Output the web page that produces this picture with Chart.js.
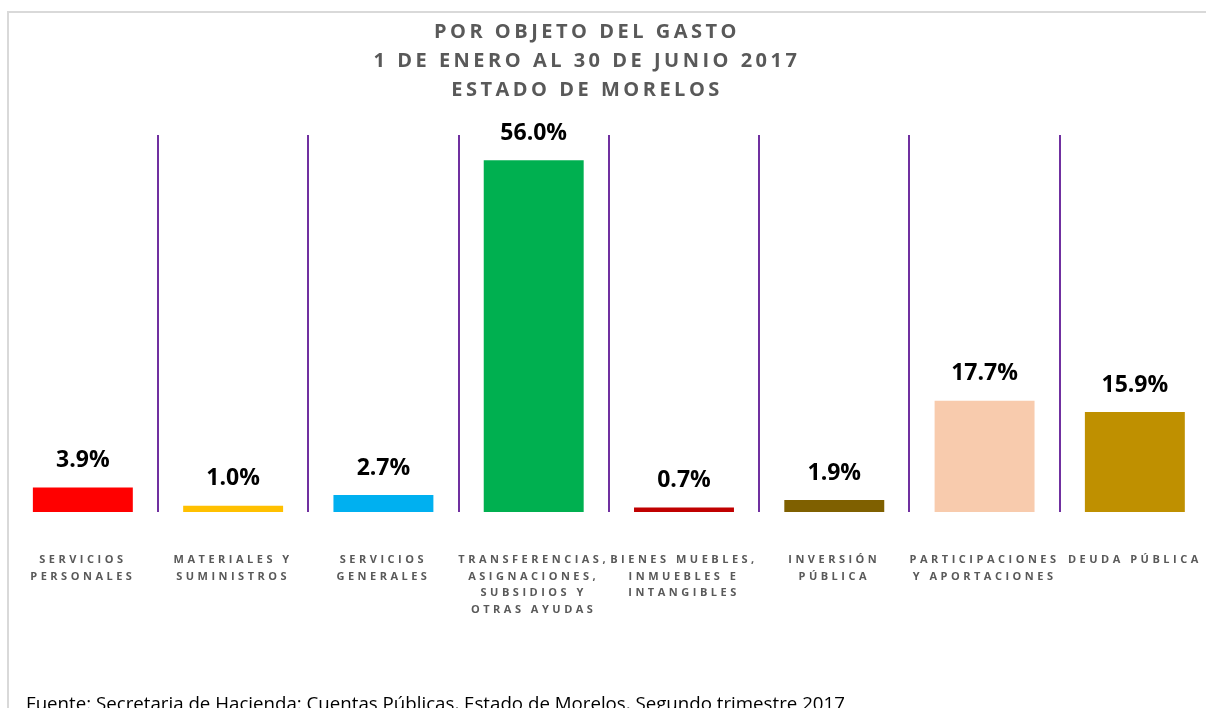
<!DOCTYPE html>
<html lang="es">
<head>
<meta charset="utf-8">
<title>Por objeto del gasto</title>
<script src="https://cdn.jsdelivr.net/npm/chart.js@4.4.1/dist/chart.umd.min.js"></script>
<style>
    html, body {
        margin: 0;
        padding: 0;
        background: #ffffff;
        overflow: hidden;
    }
    #contenedor {
        position: relative;
        width: 1206px;
        height: 708px;
        overflow: hidden;
    }
    #marco {
        position: absolute;
        left: 7px;
        top: 11px;
        width: 1300px;
        height: 800px;
        border-left: 2px solid #d9d9d9;
        border-top: 2px solid #d9d9d9;
    }
    #grafica {
        position: absolute;
        left: 0;
        top: 0;
    }
    #fuente {
        position: absolute;
        left: 26px;
        top: 692px;
        font-family: 'Open Sans', sans-serif;
        font-size: 18.7px;
        line-height: 22px;
        color: #000000;
        white-space: nowrap;
    }
</style>
</head>
<body>
<div id="contenedor">
    <div id="marco"></div>
    <canvas id="grafica" width="1212" height="708"></canvas>
    <div id="fuente">Fuente: Secretaria de Hacienda: Cuentas Públicas, Estado de Morelos, Segundo trimestre 2017</div>
</div>
<script>
// DATOS
var categorias = [
    ['SERVICIOS', 'PERSONALES'],
    ['MATERIALES Y', 'SUMINISTROS'],
    ['SERVICIOS', 'GENERALES'],
    ['TRANSFERENCIAS,', 'ASIGNACIONES,', 'SUBSIDIOS Y', 'OTRAS AYUDAS'],
    ['BIENES MUEBLES,', 'INMUEBLES E', 'INTANGIBLES'],
    ['INVERSIÓN', 'PÚBLICA'],
    ['PARTICIPACIONES', 'Y APORTACIONES'],
    ['DEUDA PÚBLICA']
];
var porcentajes = [3.9, 1.0, 2.7, 56.0, 0.7, 1.9, 17.7, 15.9];
var colores = ['#FF0000', '#FFC000', '#00B0F0', '#00B050', '#C00000', '#7F6000', '#F8CBAD', '#BF9000'];
var titulo = ['POR OBJETO DEL GASTO', '1 DE ENERO AL 30 DE JUNIO 2017', 'ESTADO DE MORELOS'];

// espaciado de letras para etiquetas del eje
var espaciado = {
    id: 'espaciado',
    beforeLayout: function (chart) {
        chart.ctx.letterSpacing = '3.5px';
    },
    beforeDraw: function (chart) {
        chart.ctx.letterSpacing = '3.5px';
    }
};

// titulo (un poco a la izquierda del centro, como en el original)
var tituloGrafica = {
    id: 'tituloGrafica',
    afterDraw: function (chart) {
        var ctx = chart.ctx;
        ctx.save();
        ctx.letterSpacing = '3.5px';
        ctx.font = 'bold 20px "Open Sans"';
        ctx.fillStyle = '#595959';
        ctx.textAlign = 'center';
        ctx.textBaseline = 'middle';
        for (var i = 0; i < titulo.length; i++) {
            ctx.fillText(titulo[i], 587, 32 + i * 29);
        }
        ctx.restore();
    }
};

// etiquetas de porcentaje sobre cada barra
var etiquetasValor = {
    id: 'etiquetasValor',
    afterDatasetsDraw: function (chart) {
        var ctx = chart.ctx;
        var meta = chart.getDatasetMeta(0);
        ctx.save();
        ctx.letterSpacing = '0px';
        ctx.font = 'bold 23px "Open Sans"';
        ctx.fillStyle = '#000000';
        ctx.textAlign = 'center';
        ctx.textBaseline = 'middle';
        for (var i = 0; i < meta.data.length; i++) {
            var barra = meta.data[i];
            ctx.fillText(porcentajes[i].toFixed(1) + '%', barra.x, barra.y - 27);
        }
        ctx.restore();
        ctx.letterSpacing = '3.5px';
    }
};

var ctx = document.getElementById('grafica').getContext('2d');
var miGrafica = new Chart(ctx, {
    type: 'bar',
    data: {
        labels: categorias,
        datasets: [{
            data: porcentajes,
            backgroundColor: colores,
            borderWidth: 0,
            categoryPercentage: 1,
            barPercentage: 0.665
        }]
    },
    options: {
        responsive: false,
        animation: false,
        layout: {
            padding: { top: 135, bottom: 90, left: 7.7, right: 2 }
        },
        plugins: {
            legend: { display: false },
            tooltip: { enabled: false },
            title: { display: false }
        },
        scales: {
            x: {
                offset: true,
                border: { display: false },
                grid: {
                    offset: true,
                    drawTicks: true,
                    tickLength: 40,
                    tickColor: 'rgba(0,0,0,0)',
                    lineWidth: 2,
                    color: function (contexto) {
                        // sin linea en los extremos
                        if (contexto.index === undefined || contexto.index === 0 || contexto.index >= categorias.length) {
                            return 'rgba(0,0,0,0)';
                        }
                        return '#7030A0';
                    }
                },
                ticks: {
                    color: '#595959',
                    font: { family: 'Open Sans', size: 11, weight: 'bold', lineHeight: '16.5px' },
                    padding: 0,
                    autoSkip: false,
                    minRotation: 0,
                    maxRotation: 0
                }
            },
            y: {
                display: false,
                min: 0,
                max: 60
            }
        }
    },
    plugins: [espaciado, tituloGrafica, etiquetasValor]
});
</script>
</body>
</html>
